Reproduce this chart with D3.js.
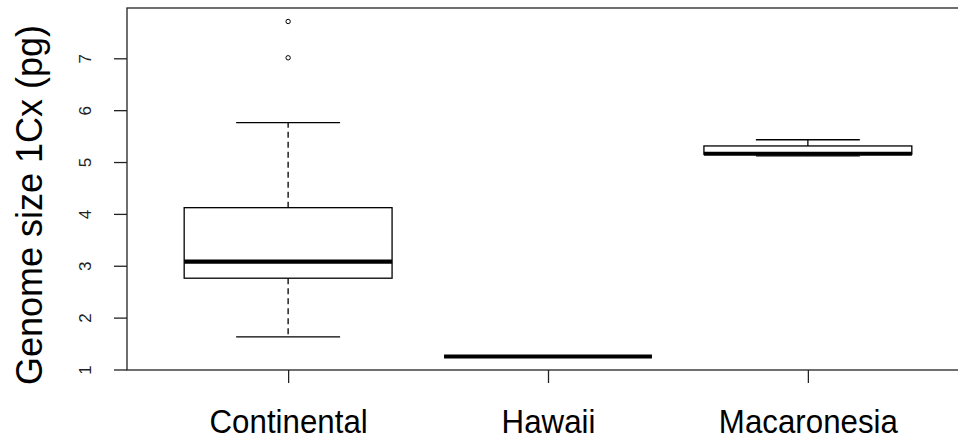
<!DOCTYPE html>
<html>
<head>
<meta charset="utf-8">
<script src="https://cdn.jsdelivr.net/npm/d3@7"></script>
<style>
  html, body { margin: 0; padding: 0; background: #fff; }
  svg { display: block; }
  text { font-family: "Liberation Sans", Arial, sans-serif; }
</style>
</head>
<body>
<svg id="chart" width="958" height="442"></svg>
<script>
// ---- data ----
const categories = ["Continental", "Hawaii", "Macaronesia"];
const whiskerLow  = [1.63, 1.25, 5.12];
const q1          = [2.76, 1.25, 5.15];
const median      = [3.08, 1.25, 5.16];
const q3          = [4.12, 1.25, 5.31];
const whiskerHigh = [5.76, 1.25, 5.43];
const outliers    = [[7.01, 7.71], [], []];
const yTicks      = [1, 2, 3, 4, 5, 6, 7];
const yLabel      = "Genome size 1Cx (pg)";

// ---- layout ----
const svg = d3.select("#chart");
const pLeft = 127, pTop = 8, pBottom = 370, pRight = 969;

const x = d3.scaleLinear().domain([0.38, 3.62]).range([pLeft, pRight]);
const y = d3.scaleLinear().domain([0.99, 7.97]).range([pBottom, pTop]);

const boxHalf = 0.4, capHalf = 0.2;

const g = svg.append("g");

categories.forEach((c, i) => {
  const cx = i + 1;
  const grp = g.append("g");
  // whiskers (dashed)
  grp.append("line")
    .attr("x1", x(cx)).attr("x2", x(cx))
    .attr("y1", y(q3[i])).attr("y2", y(whiskerHigh[i]))
    .attr("stroke", "#000").attr("stroke-width", 1.3).attr("stroke-dasharray", "6,4");
  grp.append("line")
    .attr("x1", x(cx)).attr("x2", x(cx))
    .attr("y1", y(q1[i])).attr("y2", y(whiskerLow[i]))
    .attr("stroke", "#000").attr("stroke-width", 1.3).attr("stroke-dasharray", "6,4");
  // caps
  [whiskerLow[i], whiskerHigh[i]].forEach(v => {
    grp.append("line")
      .attr("x1", x(cx - capHalf)).attr("x2", x(cx + capHalf))
      .attr("y1", y(v)).attr("y2", y(v))
      .attr("stroke", "#000").attr("stroke-width", 1.3);
  });
  // box
  grp.append("rect")
    .attr("x", x(cx - boxHalf)).attr("width", x(cx + boxHalf) - x(cx - boxHalf))
    .attr("y", y(q3[i])).attr("height", Math.max(0, y(q1[i]) - y(q3[i])))
    .attr("fill", "#fff").attr("stroke", "#000").attr("stroke-width", 1.3);
  // median
  grp.append("line")
    .attr("x1", x(cx - boxHalf)).attr("x2", x(cx + boxHalf))
    .attr("y1", y(median[i])).attr("y2", y(median[i]))
    .attr("stroke", "#000").attr("stroke-width", 4.2);
  // outliers
  grp.selectAll("circle").data(outliers[i]).enter().append("circle")
    .attr("cx", x(cx)).attr("cy", d => y(d)).attr("r", 2.2)
    .attr("fill", "none").attr("stroke", "#000").attr("stroke-width", 1);
});

// plot frame
svg.append("rect")
  .attr("x", pLeft).attr("y", pTop)
  .attr("width", pRight - pLeft).attr("height", pBottom - pTop)
  .attr("fill", "none").attr("stroke", "#222").attr("stroke-width", 1.3);

// y axis
const yAxis = d3.axisLeft(y).tickValues(yTicks).tickFormat(d3.format("d"))
  .tickSize(13).tickSizeOuter(0).tickPadding(0);
const ya = svg.append("g").attr("transform", `translate(${pLeft},0)`).call(yAxis);
ya.select(".domain").remove();
ya.selectAll(".tick line").attr("stroke", "#222").attr("stroke-width", 1.3);
ya.selectAll(".tick text")
  .attr("x", 0).attr("dy", null)
  .attr("transform", "translate(-42,0) rotate(-90)")
  .attr("text-anchor", "middle")
  .attr("dominant-baseline", "central")
  .attr("fill", "#222")
  .style("font-size", "17px");

// x axis
const xAxis = d3.axisBottom(x).tickValues([1, 2, 3])
  .tickFormat(d => categories[d - 1]).tickSize(13).tickSizeOuter(0).tickPadding(0);
const xa = svg.append("g").attr("transform", `translate(0,${pBottom})`).call(xAxis);
xa.select(".domain").remove();
xa.selectAll(".tick line").attr("stroke", "#222").attr("stroke-width", 1.3);
xa.selectAll(".tick text")
  .attr("y", 0).attr("dy", null)
  .attr("transform", "translate(0,63) scale(0.92,1)")
  .attr("fill", "#000")
  .style("font-size", "34px");

// y label
svg.append("text")
  .attr("transform", `translate(42,205) rotate(-90)`)
  .attr("text-anchor", "middle")
  .attr("fill", "#000")
  .style("font-size", "36px")
  .text(yLabel);
</script>
</body>
</html>
